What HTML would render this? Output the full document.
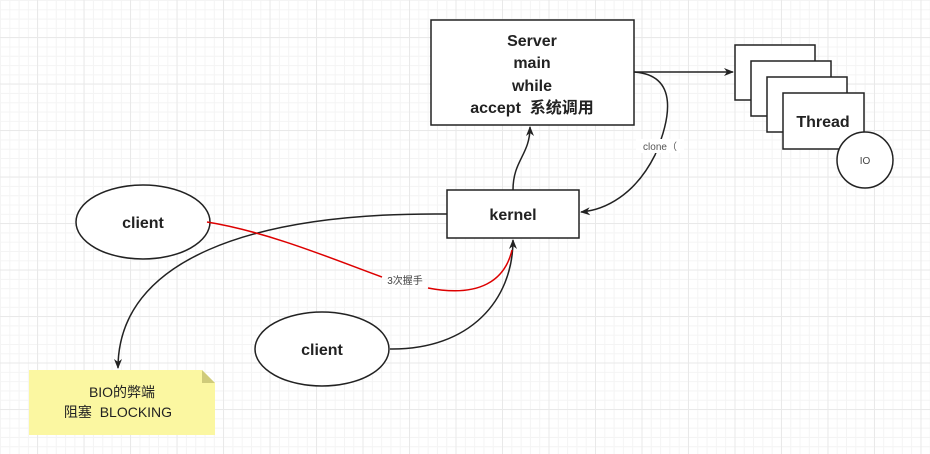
<!DOCTYPE html>
<html><head><meta charset="utf-8"><style>
html,body{margin:0;padding:0;}
body{width:930px;height:449px;overflow:hidden;background:#fff;
background-image:linear-gradient(#e9e9e9 1px,transparent 1px),linear-gradient(90deg,#e9e9e9 1px,transparent 1px),linear-gradient(#f4f4f4 1px,transparent 1px),linear-gradient(90deg,#f4f4f4 1px,transparent 1px);
background-size:46.5px 46.5px,46.5px 46.5px,9.3px 9.3px,9.3px 9.3px;background-position:37px 37px,37px 37px,0 0,0 0;}
svg text{font-family:"Liberation Sans","Noto Sans CJK SC",sans-serif;fill:#222;}
</style></head><body>
<svg width="930" height="449" xmlns="http://www.w3.org/2000/svg">
<defs><marker id="a" markerWidth="10" markerHeight="10" refX="9" refY="5" orient="auto" markerUnits="userSpaceOnUse"><path d="M0,1 L10,5 L0,9 L3,5 Z" fill="#222"/></marker></defs>
<g stroke="#222" stroke-width="1.5" fill="#fff">
<rect x="431" y="20" width="203" height="105"/>
<rect x="735" y="45" width="80" height="55"/>
<rect x="751" y="61" width="80" height="55"/>
<rect x="767" y="77" width="80" height="55"/>
<rect x="783" y="93" width="81" height="56"/>
<circle cx="865" cy="160" r="28"/>
<rect x="447" y="190" width="132" height="48"/>
<ellipse cx="143" cy="222" rx="67" ry="37"/>
<ellipse cx="322" cy="349" rx="67" ry="37"/>
</g>
<path d="M29,370 L202,370 L215,383 L215,435 L29,435 Z" fill="#fbf7a1"/>
<path d="M202,370 L215,383 L202,383 Z" fill="#cfcb7a"/>
<g fill="none" stroke="#222" stroke-width="1.5">
<path d="M634,72 L733,72" marker-end="url(#a)"/>
<path d="M447,214 C250,212 118,260 118,368" marker-end="url(#a)"/>
<path d="M390,349 C470,350 513,300 513,240" marker-end="url(#a)"/>
<path d="M513,190 C513,160 530,155 530,127" marker-end="url(#a)"/>
<path d="M634,72 C680,75 670,120 655,155 C635,195 605,210 581,212" marker-end="url(#a)"/>
</g>
<path d="M207,222 C270,232 340,262 382,277 M428,288 C480,298 505,280 512,250" fill="none" stroke="#d00" stroke-width="1.5"/>
<rect x="636" y="139" width="48" height="14" fill="#fff"/>
<g text-anchor="middle" font-size="16" font-weight="bold">
<text x="532" y="46">Server</text>
<text x="532" y="68">main</text>
<text x="532" y="91">while</text>
<text x="532" y="113">accept&#160;&#160;系统调用</text>
<text x="823" y="127">Thread</text>
<text x="513" y="220">kernel</text>
<text x="143" y="228">client</text>
<text x="322" y="355">client</text>
<text x="122" y="397" font-size="14" font-weight="normal">BIO的弊端</text>
<text x="118" y="417" font-size="14" font-weight="normal">阻塞&#160;&#160;BLOCKING</text>
</g>
<text x="660" y="150" font-size="10" text-anchor="middle" style="fill:#555">clone（</text>
<text x="405" y="284" font-size="10" text-anchor="middle" style="fill:#444">3次握手</text>
<text x="865" y="164" font-size="10" text-anchor="middle" style="fill:#444">IO</text>
</svg>
</body></html>
